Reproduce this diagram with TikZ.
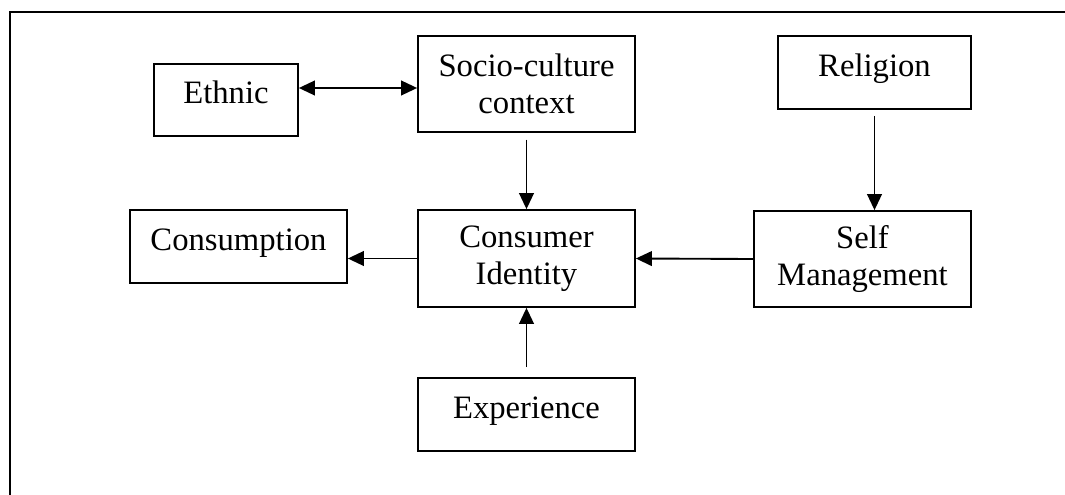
\documentclass[tikz,border=0pt]{standalone}
\usepackage{fontspec}
\setmainfont{Liberation Serif}
\usetikzlibrary{arrows.meta,calc}

\begin{document}
\begin{tikzpicture}[x=0.75pt,y=-0.75pt,
  box/.style={draw,line width=1.3pt,rectangle,inner sep=0pt,align=center,
    font=\fontsize{24.5}{28}\selectfont},
  oneline/.style={box,text height=0.7em,text depth=0.15em},
  arr/.style={line width=1.4pt,-{Triangle[length=12pt,width=11pt]}},
  both/.style={line width=1.4pt,{Triangle[length=12pt,width=11pt]}-{Triangle[length=12pt,width=11pt]}},
  frame/.style={line width=1.5pt}]
\useasboundingbox (0,0) rectangle (1065,495);

% outer frame (open on the right and at the bottom)
\coordinate (ftl) at (10,12);
\coordinate (ftr) at (1065,12);
\coordinate (fbl) at (10,495);
\draw[frame] (fbl) -- (ftl) -- (ftr);

% boxes
\node[oneline,minimum width=108pt,minimum height=54pt] (ethnic) at (226,100) {Ethnic};
\node[box,minimum width=162.75pt,minimum height=72pt] (socio) at (526.5,84) {Socio-culture\\context};
\node[oneline,minimum width=144.75pt,minimum height=54.75pt] (religion) at (874.5,72.5) {Religion};
\node[oneline,minimum width=162.75pt,minimum height=54.75pt] (consumption) at (238.5,246.5) {Consumption};
\node[box,minimum width=162.75pt,minimum height=72.75pt] (identity) at (526.5,258.5) {Consumer\\Identity};
\node[box,minimum width=162.75pt,minimum height=72pt] (self) at (862.5,259) {Self\\Management};
\node[oneline,minimum width=162.75pt,minimum height=54.75pt] (experience) at (526.5,414.5) {Experience};

% connectors
\draw[both] ([yshift=9pt]ethnic.east) -- ([yshift=9pt]ethnic.east -| socio.west);
\draw[arr,shorten <=5pt] (socio.south) -- (identity.north);
\draw[arr,shorten <=4.5pt] (religion.south) -- (religion.south |- self.north);
\draw[arr] (self.west) -- (identity.east);
\draw[arr] (identity.west) -- (identity.west -| consumption.east);
\draw[arr,shorten <=7.5pt] (experience.north) -- (identity.south);
\end{tikzpicture}
\end{document}
